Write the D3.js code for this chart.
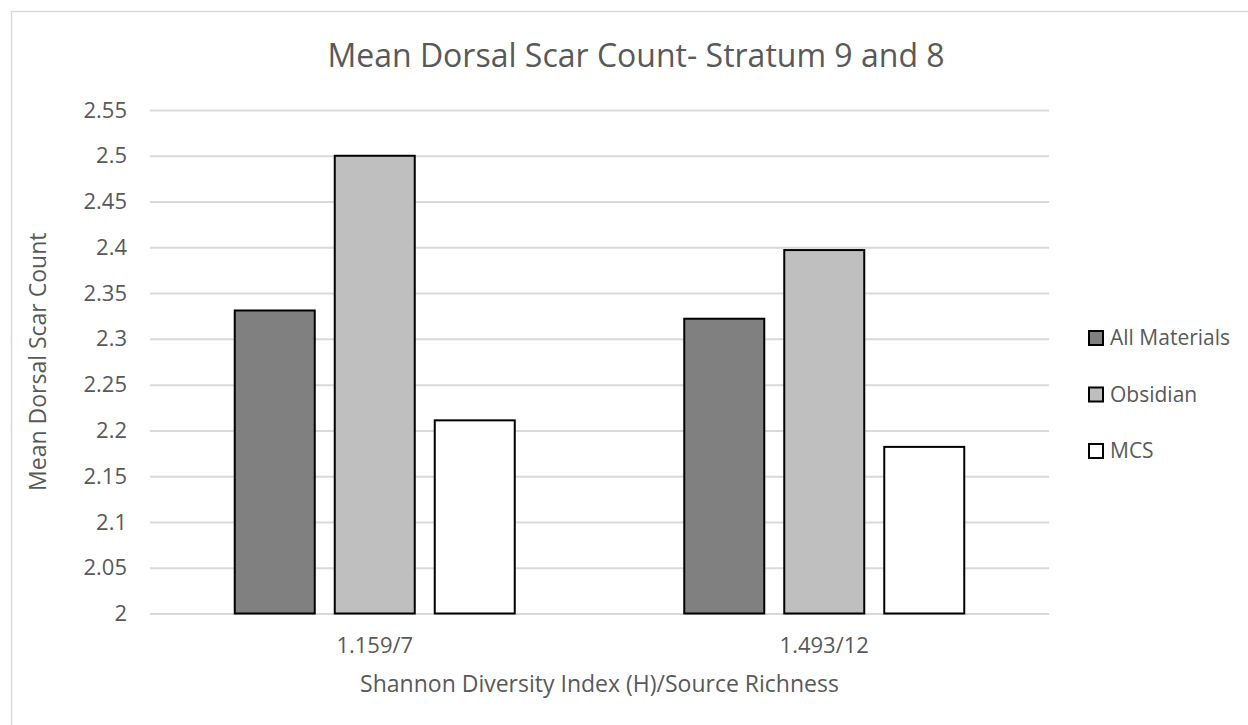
<!DOCTYPE html>
<html>
<head>
<meta charset="utf-8">
<script src="https://cdn.jsdelivr.net/npm/d3@7"></script>
<style>
  html, body { margin: 0; padding: 0; background: #fff; }
  svg { display: block; }
  text { font-family: "Open Sans", "Noto Sans", sans-serif; fill: #595959; }
</style>
</head>
<body>
<svg id="chart" width="1248" height="725"></svg>
<script>
const categories = ["1.159/7", "1.493/12"];
const seriesNames = ["All Materials", "Obsidian", "MCS"];
const allMaterials = [2.331, 2.322];
const obsidian = [2.500, 2.397];
const mcs = [2.211, 2.182];
const seriesColors = ["#808080", "#bfbfbf", "#ffffff"];
const yTicks = [2, 2.05, 2.1, 2.15, 2.2, 2.25, 2.3, 2.35, 2.4, 2.45, 2.5, 2.55];
const yTickLabels = ["2", "2.05", "2.1", "2.15", "2.2", "2.25", "2.3", "2.35", "2.4", "2.45", "2.5", "2.55"];
const titleText = "Mean Dorsal Scar Count- Stratum 9 and 8";
const xTitleText = "Shannon Diversity Index (H)/Source Richness";
const yTitleText = "Mean Dorsal Scar Count";

const seriesValues = [allMaterials, obsidian, mcs];

const svg = d3.select("#chart");
const plot = { left: 150, right: 1049, top: 110, bottom: 613.5 };

// chart border
svg.append("rect")
  .attr("x", 11.5).attr("y", 11.5)
  .attr("width", 1260).attr("height", 740)
  .attr("fill", "#fff").attr("stroke", "#d9d9d9").attr("stroke-width", 1.5);

const y = d3.scaleLinear().domain([2, 2.55]).range([plot.bottom, plot.top]);
const x0 = d3.scaleBand().domain(categories).range([plot.left, plot.right]).padding(0);
const groupW = 280;
const x1 = d3.scaleBand().domain(seriesNames).range([0, groupW]).paddingInner(0.2).paddingOuter(0);
const groupOffset = (x0.bandwidth() - groupW) / 2;

// gridlines + y tick labels
const yAxis = d3.axisLeft(y).tickValues(yTicks)
  .tickFormat((d, i) => yTickLabels[i])
  .tickSize(-(plot.right - plot.left)).tickPadding(23);
const gy = svg.append("g").attr("transform", `translate(${plot.left},0)`).call(yAxis);
gy.select(".domain").remove();
gy.selectAll(".tick line").attr("stroke", "#d9d9d9").attr("stroke-width", 2);
gy.selectAll(".tick text")
  .style("font-family", '"Open Sans", sans-serif')
  .style("font-size", "22px").attr("fill", "#595959");

// bars
const groups = svg.append("g").selectAll("g")
  .data(categories).join("g")
  .attr("transform", d => `translate(${x0(d) + groupOffset},0)`);

groups.selectAll("rect")
  .data((c, ci) => seriesNames.map((s, si) => ({ s, si, v: seriesValues[si][ci] })))
  .join("rect")
  .attr("x", d => x1(d.s))
  .attr("y", d => y(d.v))
  .attr("width", x1.bandwidth())
  .attr("height", d => y(2) - y(d.v))
  .attr("fill", d => seriesColors[d.si])
  .attr("stroke", "#000")
  .attr("stroke-width", 2);

// x axis labels
const xAxis = d3.axisBottom(x0).tickSize(0).tickPadding(0);
const gx = svg.append("g").attr("transform", `translate(0,${plot.bottom})`).call(xAxis);
gx.select(".domain").remove();
gx.selectAll(".tick text")
  .attr("y", 39).attr("dy", null)
  .style("font-family", '"Open Sans", sans-serif')
  .style("font-size", "22px").attr("fill", "#595959");

// title
svg.append("text")
  .attr("x", 636).attr("y", 67)
  .attr("text-anchor", "middle")
  .style("font-size", "32px")
  .text(titleText);

// x axis title
svg.append("text")
  .attr("x", (plot.left + plot.right) / 2).attr("y", 692)
  .attr("text-anchor", "middle")
  .style("font-size", "23px")
  .text(xTitleText);

// y axis title
svg.append("text")
  .attr("transform", `translate(46,${(plot.top + plot.bottom) / 2}) rotate(-90)`)
  .attr("text-anchor", "middle")
  .style("font-size", "23px")
  .text(yTitleText);

// legend
const legend = svg.append("g").selectAll("g")
  .data(seriesNames).join("g")
  .attr("transform", (d, i) => `translate(1089,${338 + i * 56.5})`);
legend.append("rect")
  .attr("x", 0).attr("y", -7)
  .attr("width", 14).attr("height", 14)
  .attr("fill", (d, i) => seriesColors[i])
  .attr("stroke", "#000").attr("stroke-width", 2);
legend.append("text")
  .attr("x", 21).attr("y", 0).attr("dy", "0.35em")
  .style("font-size", "21px")
  .text(d => d);
</script>
</body>
</html>
